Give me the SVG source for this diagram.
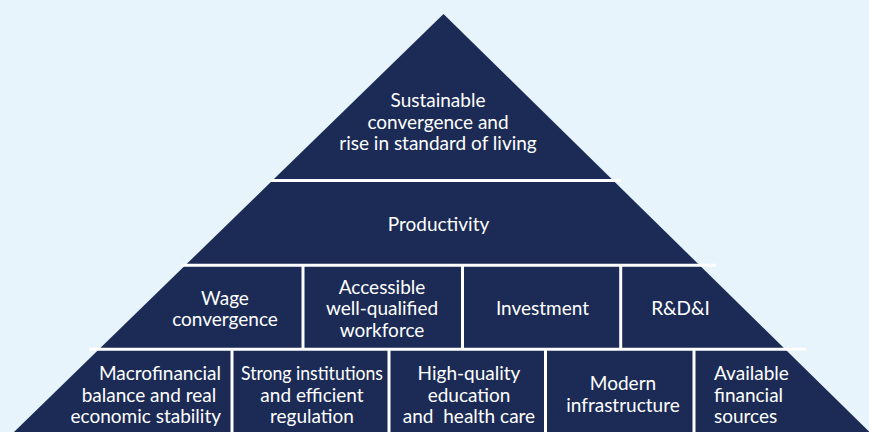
<svg xmlns="http://www.w3.org/2000/svg" width="869" height="432" viewBox="0 0 869 432">
<style>
.cell{fill:#1B2B55}
.t{font-family:Lato,"Open Sans","Liberation Sans",sans-serif;font-size:19px;fill:#FFFFFF;text-anchor:middle}
.r{text-anchor:end}
.l{text-anchor:start}
.sep{stroke:#FFFFFF;stroke-width:3;fill:none}
</style>
<rect width="869" height="432" fill="#E8F4FB"/>
<g id="node-top">
<polygon class="cell" points="443.5,14 613.2,180.5 272.4,180.5"/>
<text class="t" x="438" y="107">Sustainable</text>
<text class="t" x="438" y="128.5">convergence and</text>
<text class="t" x="438" y="150">rise in standard of living</text>
</g>
<g id="node-productivity">
<polygon class="cell" points="272.4,180.5 613.2,180.5 699.6,265.3 185.3,265.3"/>
<text class="t" x="438.5" y="231">Productivity</text>
</g>
<g id="node-wage">
<polygon class="cell" points="185.3,265.3 303,265.3 303,349.3 99,349.3"/>
<text class="t" x="225" y="305">Wage</text>
<text class="t" x="225" y="326">convergence</text>
</g>
<g id="node-workforce">
<rect class="cell" x="303" y="265.3" width="159.5" height="84"/>
<text class="t" x="382" y="294">Accessible</text>
<text class="t" x="382" y="315">well-qualified</text>
<text class="t" x="382" y="336.5">workforce</text>
</g>
<g id="node-investment">
<rect class="cell" x="462.5" y="265.3" width="158.2" height="84"/>
<text class="t" x="542.5" y="315">Investment</text>
</g>
<g id="node-rdi">
<polygon class="cell" points="620.7,265.3 699.6,265.3 785.2,349.3 620.7,349.3"/>
<text class="t" x="680.5" y="315">R&amp;D&amp;I</text>
</g>
<g id="node-macro">
<polygon class="cell" points="99,349.3 232,349.3 232,432 14,432"/>
<text class="t r" x="221" y="380">Macrofinancial</text>
<text class="t r" x="221" y="401.5" style="white-space:pre">balance and real </text>
<text class="t r" x="221" y="422.5">economic stability</text>
</g>
<g id="node-institutions">
<rect class="cell" x="232" y="349.3" width="157" height="82.7"/>
<text class="t" x="312" y="380" textLength="142" lengthAdjust="spacingAndGlyphs">Strong institutions</text>
<text class="t" x="312" y="401.5">and efficient</text>
<text class="t" x="312" y="422.5">regulation</text>
</g>
<g id="node-education">
<rect class="cell" x="389" y="349.3" width="156.5" height="82.7"/>
<text class="t" x="469" y="379.5">High-quality</text>
<text class="t" x="469" y="401.5">education</text>
<text class="t" x="469" y="423" style="white-space:pre">and  health care</text>
</g>
<g id="node-infrastructure">
<rect class="cell" x="545.5" y="349.3" width="148.5" height="82.7"/>
<text class="t" x="623" y="390">Modern</text>
<text class="t" x="623" y="411.5">infrastructure</text>
</g>
<g id="node-financial">
<polygon class="cell" points="694,349.3 785.2,349.3 869.5,432 694,432"/>
<text class="t l" x="714" y="379.5">Available</text>
<text class="t l" x="714" y="401.5">financial</text>
<text class="t l" x="714" y="422.5">sources</text>
</g>
<g id="connectors">
<line class="sep" x1="270" y1="180.5" x2="621" y2="180.5"/>
<line class="sep" x1="181" y1="265.3" x2="716" y2="265.3"/>
<line class="sep" x1="89" y1="349.3" x2="806" y2="349.3"/>
<line class="sep" x1="303" y1="265.3" x2="303" y2="349.3"/>
<line class="sep" x1="462.5" y1="265.3" x2="462.5" y2="349.3"/>
<line class="sep" x1="620.7" y1="265.3" x2="620.7" y2="349.3"/>
<line class="sep" x1="232" y1="349.3" x2="232" y2="432"/>
<line class="sep" x1="389" y1="349.3" x2="389" y2="432"/>
<line class="sep" x1="545.5" y1="349.3" x2="545.5" y2="432"/>
<line class="sep" x1="694" y1="349.3" x2="694" y2="432"/>
</g>
</svg>
